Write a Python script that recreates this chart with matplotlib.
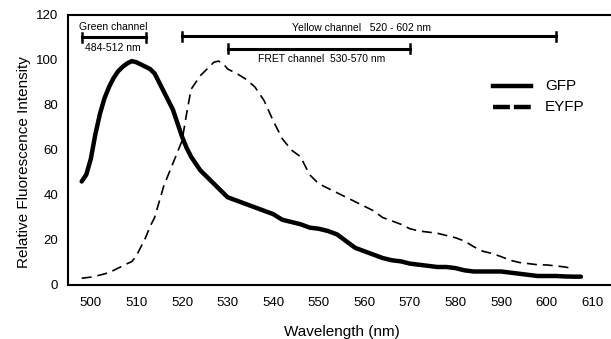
import matplotlib
matplotlib.use("Agg")
import matplotlib.pyplot as plt

plt.rcParams['font.family'] = ['Liberation Sans', 'DejaVu Sans']

# GFP emission spectrum (solid line)
gfp_wl = [498, 499, 500, 501, 502, 503, 504, 505, 506, 507, 508, 509, 510,
          511, 512, 513, 514, 515, 516, 517, 518, 519, 520, 521, 522, 524,
          526, 528, 530, 532, 534, 536, 538, 540, 542, 544, 546, 548, 550,
          552, 554, 556, 558, 560, 562, 564, 566, 568, 570, 572, 574, 576,
          578, 580, 582, 584, 586, 588, 590, 592, 594, 596, 598, 600, 602,
          604, 606, 607.5]
gfp_int = [46, 49, 56, 67, 76, 83, 88, 92, 95, 97, 98.5, 99.5, 99,
           98, 97, 96, 94, 90, 86, 82, 78, 72, 66, 61, 57, 51,
           47, 43, 39, 37.5, 36, 34.5, 33, 31.5, 29, 28, 27, 25.5, 25,
           24, 22.5, 19.5, 16.5, 15, 13.5, 12, 11, 10.5, 9.5, 9, 8.5, 8,
           8, 7.5, 6.5, 6, 6, 6, 6, 5.5, 5, 4.5, 4, 4, 4,
           3.8, 3.7, 3.7]

# EYFP emission spectrum (dashed line)
eyfp_wl = [498, 500, 502, 504, 506, 508, 509, 510, 511, 512, 513, 514, 515,
           516, 517, 518, 519, 520, 521, 522, 523, 524, 525, 526, 527, 528,
           529, 530, 531, 532, 534, 536, 538, 540, 542, 544, 546, 548, 550,
           552, 554, 556, 558, 560, 562, 564, 566, 568, 570, 572, 574, 576,
           578, 580, 582, 584, 586, 588, 590, 592, 594, 596, 598, 600, 602,
           604, 606]
eyfp_int = [3, 3.5, 4.4, 5.5, 7.5, 9.5, 10.4, 13, 17, 21, 26, 30, 37,
            44, 49, 54, 59, 64, 76, 87, 90, 93, 95, 97, 99, 99.5,
            98.5, 96, 95, 94, 91.5, 88, 82, 73, 65, 60, 57, 49, 45,
            43, 41, 39, 37, 35, 33, 30, 28.5, 27, 25, 24, 23.5, 23,
            22, 21, 19.5, 17, 15, 14, 12.6, 11, 10, 9.5, 9, 8.9, 8.5,
            8, 7.2]

# channel bars: (start, end, height)
green_ch = [498, 512, 110]
yellow_ch = [520, 602, 110.5]
fret_ch = [530, 570, 105]

fig = plt.figure(figsize=(6.11, 3.39), dpi=100)
ax = fig.add_axes([0.1113, 0.1593, 0.8887, 0.7965])

ax.plot(gfp_wl, gfp_int, color='black', lw=3.2, solid_capstyle='round',
        label='GFP')
ax.plot(eyfp_wl, eyfp_int, color='black', lw=1.2, dashes=(6, 3.5),
        label='EYFP')

# legend drawn by hand like the original
ax.plot([588.2, 596.5], [88.4, 88.4], color='black', lw=3.2)
ax.plot([588.2, 596.5], [79.1, 79.1], color='black', lw=3.2,
        dashes=(3.8, 0.9))
ax.text(599.6, 88.4, 'GFP', fontsize=11, va='center', ha='left')
ax.text(599.6, 79.1, 'EYFP', fontsize=11, va='center', ha='left')

# channel range bars
for ch in [green_ch, yellow_ch, fret_ch]:
    ax.plot([ch[0], ch[1]], [ch[2], ch[2]], color='black', lw=2.2)
    ax.plot([ch[0], ch[0]], [ch[2] - 2, ch[2] + 2], color='black', lw=1.8)
    ax.plot([ch[1], ch[1]], [ch[2] - 2, ch[2] + 2], color='black', lw=1.8)

ax.text(505, 114.5, 'Green channel', fontsize=7.5, ha='center', va='center')
ax.text(504.8, 105.5, '484-512 nm', fontsize=7.5, ha='center', va='center')
ax.text(559.3, 114.2, 'Yellow channel   520 - 602 nm', fontsize=7.5,
        ha='center', va='center')
ax.text(550.7, 100.5, 'FRET channel  530-570 nm', fontsize=7.5,
        ha='center', va='center')

ax.set_xlim(495, 614.1)
ax.set_ylim(0, 120)
ax.set_xticks(range(500, 611, 10))
ax.set_yticks(range(0, 121, 20))
ax.tick_params(length=0, labelsize=9.5, pad=9)
ax.tick_params(axis='y', pad=7)

for s in ['left', 'bottom', 'top']:
    ax.spines[s].set_linewidth(1.5)
ax.spines['right'].set_visible(False)

ax.set_xlabel('Wavelength (nm)', fontsize=11)
ax.set_ylabel('Relative Fluorescence Intensity', fontsize=11)
ax.xaxis.set_label_coords(0.504, -0.147)
ax.yaxis.set_label_coords(-0.068, 0.454)

plt.savefig('out.png', dpi=100)
